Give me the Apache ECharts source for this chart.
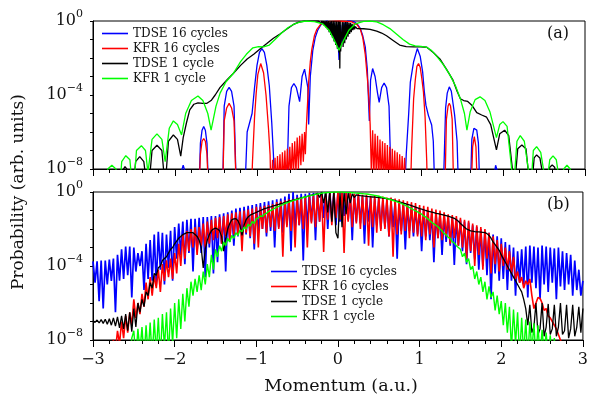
<!DOCTYPE html>
<html>
<head>
<meta charset="utf-8">
<script src="https://cdn.jsdelivr.net/npm/echarts@6/dist/echarts.min.js"></script>
<style>html,body{margin:0;padding:0;background:#fff}#c{width:591px;height:399px}</style>
</head>
<body>
<div id="c"></div>
<script>
// ===== DATA (log10 of probability) =====
const seriesNames = ['TDSE 16 cycles', 'KFR 16 cycles', 'TDSE 1 cycle', 'KFR 1 cycle'];
const seriesColors = ['#0000ff', '#ff0000', '#000000', '#00ff00'];
const yTicks = [0, -4, -8];

// ---- panel (a): x / log10(P) pairs ----
const aBlueX = [-3.0,-1.94,-1.92,-1.90,-1.88,-1.86,-1.71,-1.69,-1.67,-1.65,-1.63,-1.61,-1.59,-1.42,-1.40,-1.37,-1.34,-1.31,-1.28,-1.25,
 -1.15,-1.12,-1.09,-1.06,-1.03,-1.00,-0.97,-0.94,-0.91,-0.88,-0.85,-0.82,-0.80,-0.78,-0.64,-0.61,-0.58,-0.55,-0.52,-0.48,
 -0.45,-0.42,-0.40,-0.38,-0.37,-0.35,-0.32,-0.29,-0.26,-0.22,-0.18,-0.14,-0.12,-0.10,-0.08,-0.06,-0.04,-0.02,0.0,0.02,
 0.04,0.06,0.08,0.10,0.14,0.18,0.22,0.26,0.29,0.32,0.345,0.37,0.385,0.41,0.44,0.47,0.49,0.52,0.55,0.58,
 0.61,0.64,0.80,0.82,0.85,0.87,0.91,0.955,0.99,1.02,1.04,1.06,1.09,1.13,1.15,1.17,1.27,1.30,1.32,1.345,
 1.37,1.41,1.44,1.46,1.60,1.62,1.645,1.66,1.68,1.70,1.72,1.88,1.90,1.91,1.93,1.95,3.0];
const aBlueY = [-9.5,-9.5,-8.1,-7.8,-8.1,-9.5,-9.5,-6.6,-5.9,-5.7,-5.9,-6.6,-9.5,-9.5,-4.6,-3.8,-3.59,-3.8,-4.6,-9.5,
 -9.5,-6.0,-5.5,-5.0,-3.6,-2.4,-1.7,-1.49,-1.7,-2.4,-3.5,-5.5,-7.2,-9.5,-9.5,-4.6,-3.6,-3.38,-3.6,-4.36,
 -3.0,-2.6,-2.7,-3.6,-5.6,-3.0,-1.6,-0.9,-0.5,-0.2,-0.05,0,-0.5,-0.05,-0.8,-0.1,-1.3,-0.2,-2.1,-0.2,
 -1.2,-0.1,-0.6,0,0,-0.03,-0.15,-0.4,-0.8,-1.4,-2.6,-5.4,-3.2,-2.57,-3.0,-3.9,-4.4,-3.6,-3.35,-3.6,
 -4.6,-9.5,-9.5,-7.2,-5.0,-3.3,-2.2,-1.49,-1.9,-2.75,-3.8,-4.55,-5.1,-5.62,-6.5,-9.5,-9.5,-4.7,-3.9,-3.56,
 -3.8,-5.08,-6.5,-9.5,-9.5,-6.4,-5.8,-5.7,-5.9,-6.6,-9.5,-9.5,-8.1,-7.8,-8.1,-9.5,-9.5];

const aRedX = [-3.0,-1.71,-1.69,-1.67,-1.65,-1.63,-1.61,-1.59,-1.42,-1.40,-1.37,-1.34,-1.31,-1.28,-1.25,
 -1.07,-1.055,-1.03,-1.01,-0.99,-0.955,-0.92,-0.89,-0.86,-0.84,-0.83,
 -0.81,-0.795,-0.78,-0.765,-0.75,-0.735,-0.72,-0.705,-0.69,-0.675,-0.66,-0.645,-0.63,-0.615,-0.60,-0.585,-0.57,-0.555,-0.54,-0.525,
 -0.51,-0.495,-0.48,-0.465,-0.45,-0.435,-0.42,-0.41,-0.40,-0.39,-0.37,-0.35,-0.33,-0.30,-0.27,-0.22,-0.15,0,0.15,0.22,0.26,0.29,0.32,0.35,0.37,0.38,
 0.395,0.41,0.425,0.44,0.455,0.47,0.485,0.50,0.515,0.53,0.545,0.56,0.575,0.59,0.605,0.62,0.635,0.65,0.665,0.68,0.695,0.71,0.725,0.74,0.755,0.77,0.785,0.80,0.815,0.83,
 0.87,0.885,0.91,0.93,0.95,0.97,0.99,1.01,1.03,1.05,1.07,1.08,
 1.29,1.31,1.33,1.345,1.36,1.38,1.40,1.61,1.63,1.65,1.67,1.69,3.0];
const aRedY = [-9.5,-9.5,-7.2,-6.5,-6.35,-6.5,-7.2,-9.5,-9.5,-5.4,-4.7,-4.45,-4.7,-5.4,-9.5,
 -9.5,-7.6,-5.2,-3.9,-2.9,-2.3,-2.8,-4.0,-5.8,-7.24,-9.5,
 -7.5,-9,-7.4,-9,-7.3,-9,-7.2,-9,-7.1,-8.8,-7.0,-8.8,-6.9,-8.6,-6.8,-8.5,-6.6,-8.3,-6.5,-8.2,
 -6.3,-8.0,-6.2,-7.8,-6.1,-7.6,-6.0,-7.2,-5.9,-5.0,-3.3,-2.2,-1.49,-0.8,-0.45,-0.15,-0.03,0,-0.03,-0.2,-0.45,-0.9,-1.8,-3.3,-4.6,-5.6,
 -8.3,-5.9,-8.4,-6.1,-8.5,-6.2,-8.6,-6.4,-8.7,-6.5,-8.8,-6.6,-9,-6.7,-9,-6.8,-9,-6.9,-9,-7.0,-9,-7.1,-9,-7.2,-9,-7.3,-9,-7.4,-9,-9.5,
 -9.5,-7.0,-4.2,-3.2,-2.45,-2.3,-2.5,-3.1,-3.85,-5.2,-7.6,-9.5,
 -9.5,-5.3,-4.6,-4.45,-4.6,-5.3,-9.5,-9.5,-6.8,-6.25,-6.8,-9.5,-9.5];

const aBlackX = [-3.0,-2.68,-2.64,-2.61,-2.57,-2.52,-2.48,-2.43,-2.38,-2.33,-2.28,-2.22,-2.16,-2.12,-2.08,-2.02,-1.97,-1.93,-1.90,-1.86,
 -1.82,-1.77,-1.72,-1.66,-1.61,-1.56,-1.51,-1.45,-1.37,-1.29,-1.20,-1.12,-1.04,-0.96,-0.88,-0.80,-0.72,-0.64,-0.56,-0.50,
 -0.42,-0.35,-0.28,-0.26,-0.25,-0.24,-0.23,-0.22,-0.21,-0.20,-0.19,-0.18,-0.17,-0.16,-0.15,-0.14,-0.13,-0.12,-0.11,-0.10,
 -0.09,-0.08,-0.07,-0.06,-0.05,-0.04,-0.03,-0.02,-0.01,0.0,0.005,0.01,0.015,0.02,0.03,0.04,0.05,0.06,0.07,0.08,
 0.09,0.10,0.11,0.12,0.13,0.14,0.15,0.16,0.17,0.18,0.19,0.20,0.22,0.30,0.38,0.46,0.52,0.58,0.66,0.74,
 0.82,0.91,1.0,1.07,1.15,1.23,1.31,1.39,1.44,1.48,1.52,1.57,1.62,1.68,1.74,1.80,1.85,1.92,1.96,2.02,
 2.07,2.14,2.18,2.23,2.28,2.34,2.38,2.41,2.45,2.53,2.57,2.60,2.63,2.68,3.0];
const aBlackY = [-9.5,-9.5,-8.1,-7.87,-8.1,-9.5,-7.6,-7.33,-7.6,-9.5,-7.0,-6.72,-7.0,-9,-6.5,-6.16,-6.4,-7.3,-6.3,-5.5,
 -4.8,-4.5,-4.43,-4.45,-4.45,-4.3,-4.0,-3.59,-3.2,-2.84,-2.4,-2.05,-1.8,-1.5,-1.22,-0.93,-0.7,-0.45,-0.2,-0.07,
 0,0,0,-0.05,0,-0.1,0,-0.12,0,-0.15,0,-0.25,0,-0.35,0,-0.45,0,-0.6,0,-0.75,
 0,-0.9,0,-1.1,0,-1.3,-0.02,-1.5,-0.02,-1.7,-0.03,-2.57,-0.03,-1.65,-1.55,-0.05,-1.4,-0.05,-1.2,-0.05,
 -1.0,-0.05,-0.85,-0.08,-0.7,-0.1,-0.6,-0.15,-0.5,-0.2,-0.45,-0.3,-0.41,-0.42,-0.45,-0.55,-0.65,-0.8,-1.05,-1.3,
 -1.38,-1.40,-1.40,-1.42,-1.7,-2.05,-2.6,-3.2,-3.8,-4.2,-4.3,-4.35,-4.55,-4.95,-5.08,-5.2,-5.6,-6.97,-6.1,-5.9,
 -6.2,-9,-6.9,-6.7,-6.9,-9.5,-7.4,-7.24,-7.4,-9.5,-7.9,-7.78,-7.9,-9.5,-9.5];

const aGreenX = [-3.0,-2.86,-2.82,-2.77,-2.72,-2.68,-2.65,-2.60,-2.55,-2.51,-2.47,-2.41,-2.36,-2.33,-2.28,-2.22,-2.16,-2.12,-2.07,-2.02,
 -1.97,-1.92,-1.87,-1.80,-1.72,-1.66,-1.60,-1.56,-1.50,-1.45,-1.38,-1.29,-1.20,-1.13,-1.05,-0.98,-0.92,-0.85,-0.78,-0.70,
 -0.62,-0.54,-0.46,-0.40,-0.30,-0.20,-0.12,-0.05,0.0,0.05,0.12,0.20,0.30,0.38,0.46,0.54,0.62,0.70,0.78,0.86,
 0.93,1.0,1.07,1.13,1.20,1.27,1.35,1.42,1.48,1.53,1.56,1.60,1.66,1.72,1.78,1.84,1.92,1.96,2.00,2.05,
 2.13,2.17,2.21,2.26,2.34,2.37,2.41,2.46,2.53,2.57,2.61,2.65,2.70,2.74,2.78,2.82,2.86,3.0];
const aGreenY = [-9.5,-9.5,-8.0,-7.8,-8.0,-9.5,-7.6,-7.28,-7.5,-9.5,-7.0,-6.74,-7.0,-8.2,-6.4,-6.1,-6.4,-7.6,-5.8,-5.4,
 -5.6,-6.16,-5.0,-4.3,-4.05,-4.3,-5.0,-5.9,-4.6,-3.9,-3.3,-2.84,-2.2,-1.8,-1.45,-1.38,-1.40,-1.3,-1.0,-0.65,
 -0.35,-0.15,-0.04,0,-0.03,-0.15,-0.5,-1.1,-1.58,-1.1,-0.5,-0.15,-0.02,0,-0.05,-0.2,-0.41,-0.7,-1.0,-1.25,
 -1.34,-1.37,-1.42,-1.6,-1.95,-2.35,-2.9,-3.5,-4.2,-5.0,-5.9,-4.9,-4.25,-4.1,-4.3,-4.9,-6.3,-5.6,-5.44,-5.7,
 -9,-6.5,-6.2,-6.5,-9,-7.0,-6.79,-7.1,-9,-7.5,-7.29,-7.5,-9,-8.0,-7.8,-8.0,-9.5,-9.5];

// ---- panel (b): sampled every xStepB from xStartB, log10(P) ----
const xStartB = -3.0;
const xStepB = 0.025;
const bBlue = [
 -3.75,-4.9,-3.75,-5.9,-3.7,-6.3,-3.7,-5.0,-3.65,-4.8,
 -3.6,-6.5,-3.4,-4.8,-3.1,-4.7,-2.95,-4.5,-2.95,-5.7,
 -3.0,-4.3,-3.3,-4.0,-3.2,-5.3,-2.8,-4.7,-2.6,-4.8,
 -2.3,-5.0,-2.15,-4.2,-2.2,-5.0,-2.3,-4.1,-2.1,-4.8,
 -1.9,-3.6,-1.7,-3.4,-1.6,-3.9,-1.5,-3.3,-1.45,-4.3,
 -1.45,-3.2,-1.4,-3.3,-1.35,-4.6,-1.35,-3.0,-1.3,-4.4,
 -1.3,-3.8,-1.2,-2.8,-1.15,-4.3,-1.1,-2.7,-1.0,-2.9,
 -0.9,-2.4,-0.85,-2.6,-0.8,-2.3,-0.75,-2.5,-0.7,-3.1,
 -0.65,-2.2,-0.6,-2.0,-0.55,-2.4,-0.5,-2.1,-0.45,-3.0,
 -0.4,-1.9,-0.35,-2.2,-0.25,-1.8,-0.1,-3.2,0.0,-2.0,
 -0.15,-1.8,-0.1,-3.7,-0.1,-1.9,-0.05,-1.6,-0.05,-2.6,
 -0.05,-1.6,0.0,-1.4,0.0,-2.0,0.0,-1.5,0.0,-1.8,
 0.0,-1.6,0.0,-1.3,0.0,-1.5,-0.05,-2.6,-0.1,-1.6,
 -0.15,-1.7,-0.2,-2.8,-0.25,-1.6,-0.3,-3.0,-0.35,-1.8,
 -0.4,-2.0,-0.45,-1.9,-0.45,-2.4,-0.5,-1.9,-0.55,-3.6,
 -0.65,-2.1,-0.7,-3.1,-0.75,-2.1,-0.8,-2.4,-0.85,-2.3,
 -0.9,-3.2,-0.95,-2.4,-1.0,-2.6,-1.1,-3.8,-1.15,-2.5,
 -1.2,-3.4,-1.25,-2.7,-1.3,-2.9,-1.4,-3.95,-1.45,-2.9,
 -1.5,-3.2,-1.6,-3.9,-1.65,-3.3,-1.8,-3.6,-1.9,-4.2,
 -2.0,-4.0,-2.1,-4.5,-2.2,-5.8,-2.3,-4.4,-2.4,-4.8,
 -2.5,-4.7,-2.7,-5.3,-2.85,-4.8,-3.0,-5.6,-3.2,-4.9,
 -3.1,-5.0,-2.95,-5.7,-2.9,-4.9,-2.95,-5.2,-3.0,-5.8,
 -2.9,-5.0,-2.95,-5.4,-3.0,-4.9,-3.05,-5.8,-3.0,-5.1,
 -3.2,-5.3,-3.3,-5.0,-3.4,-5.6,-3.7,-5.3,-4.2,-5.6,
 -4.8];
const bRed = [
 -9,-9,-9,-9,-9,-9,-9,-9,-9,-8.5,
 -8.0,-8.6,-7.5,-8.2,-7.0,-7.9,-6.7,-7.6,-6.5,-7.2,
 -5.8,-6.8,-6.0,-6.6,-5.5,-6.2,-4.9,-5.8,-4.6,-5.6,
 -4.5,-5.2,-4.2,-5.4,-3.9,-4.8,-3.7,-4.6,-3.6,-4.7,
 -3.3,-4.4,-2.8,-4.0,-2.3,-3.6,-2.1,-3.2,-2.0,-3.0,
 -1.9,-3.4,-1.9,-2.9,-1.7,-3.0,-1.6,-2.8,-1.5,-2.6,
 -1.4,-2.5,-1.35,-2.8,-1.3,-2.4,-1.2,-2.6,-1.15,-2.3,
 -1.1,-2.3,-1.05,-3.2,-1.0,-2.2,-0.95,-2.4,-0.9,-2.8,
 -0.8,-3.0,-0.8,-2.0,-0.75,-2.2,-0.7,-1.9,-0.65,-2.1,
 -0.55,-2.0,-0.5,-3.5,-0.45,-1.9,-0.4,-2.1,-0.4,-3.0,
 -0.3,-1.8,-0.3,-2.0,-0.25,-3.0,-0.2,-1.7,-0.2,-1.9,
 -0.1,-1.6,-0.1,-3.24,-0.05,-1.5,0,-1.8,0,-1.4,
 0,-1.5,0,-3.3,-0.05,-1.6,-0.05,-1.9,-0.1,-1.7,
 -0.1,-2.0,-0.15,-1.8,-0.15,-2.9,-0.2,-1.9,-0.2,-2.2,
 -0.2,-2.1,-0.25,-2.0,-0.3,-2.4,-0.3,-3.5,-0.35,-2.3,
 -0.4,-2.3,-0.45,-2.1,-0.5,-2.5,-0.55,-2.2,-0.6,-2.4,
 -0.7,-2.4,-0.75,-2.6,-0.8,-2.3,-0.9,-3.0,-0.95,-2.5,
 -1.0,-2.6,-1.1,-2.4,-1.2,-2.8,-1.25,-2.5,-1.3,-2.9,
 -1.4,-3.0,-1.5,-3.6,-1.55,-3.2,-1.7,-4.0,-1.8,-3.4,
 -1.9,-4.2,-2.0,-3.6,-2.2,-4.4,-2.4,-3.9,-2.6,-4.3,
 -2.8,-4.0,-3.0,-4.2,-3.2,-4.4,-3.5,-4.7,-4.3,-4.9,
 -4.6,-5.2,-4.8,-5.0,-4.7,-5.6,-6.3,-6.0,-5.7,-5.75,
 -6.0,-6.4,-6.3,-6.7,-6.8,-7.0,-7.2,-7.4,-7.7,-8.0,
 -8.3,-9,-9,-9,-9,-9,-9,-9,-9,-9,
 -9];
const bBlack = [
 -6.95,-7.05,-6.92,-7.08,-6.9,-7.1,-6.88,-7.15,-6.85,-7.2,
 -6.8,-7.25,-6.75,-7.35,-6.7,-7.4,-6.6,-7.5,-6.5,-7.55,
 -6.3,-7.3,-6.0,-6.5,-5.8,-6.2,-5.4,-5.6,-4.9,-5.2,
 -4.4,-4.5,-4.1,-4.0,-3.7,-3.6,-3.5,-3.3,-3.1,-3.0,
 -2.8,-2.65,-2.5,-2.4,-2.3,-2.25,-2.2,-2.2,-2.2,-2.2,
 -2.3,-2.4,-2.6,-3.0,-4.1,-3.1,-2.6,-2.3,-2.1,-2.0,
 -1.95,-2.0,-2.1,-2.4,-3.2,-2.5,-2.0,-1.7,-1.5,-1.45,
 -1.44,-1.55,-1.8,-2.34,-1.8,-1.5,-1.35,-1.25,-1.2,-1.15,
 -1.1,-1.05,-1.0,-0.95,-0.9,-0.87,-0.83,-0.8,-0.76,-0.73,
 -0.7,-0.67,-0.63,-0.6,-0.56,-0.53,-0.5,-0.47,-0.44,-0.41,
 -0.38,-0.35,-0.32,-0.29,-0.26,-0.23,-0.2,-0.17,-0.14,-0.11,
 -0.08,-0.3,0,-0.6,0,-1.1,0,-1.6,0,-2.2,
 -2.5,0,-1.9,0,-1.2,-0.05,-0.6,-0.1,-0.3,-0.15,
 -0.18,-0.2,-0.21,-0.22,-0.24,-0.25,-0.26,-0.27,-0.28,-0.29,
 -0.3,-0.31,-0.33,-0.34,-0.36,-0.38,-0.4,-0.43,-0.46,-0.5,
 -0.53,-0.56,-0.6,-0.63,-0.67,-0.7,-0.74,-0.78,-0.82,-0.86,
 -0.9,-0.93,-0.96,-1.0,-1.03,-1.06,-1.09,-1.12,-1.15,-1.17,
 -1.19,-1.22,-1.25,-1.28,-1.31,-1.34,-1.38,-1.42,-1.5,-1.58,
 -1.7,-1.8,-1.9,-2.0,-2.05,-2.1,-2.12,-2.14,-2.15,-2.16,
 -2.17,-2.18,-2.2,-2.25,-2.35,-2.5,-2.7,-2.85,-3.0,-3.15,
 -3.4,-3.6,-3.8,-4.0,-4.2,-4.4,-4.6,-4.8,-5.0,-5.2,
 -5.4,-5.8,-6.3,-7.2,-6.1,-7.6,-7.3,-6.0,-7.7,-7.4,
 -6.0,-7.8,-7.3,-6.05,-7.7,-7.4,-6.1,-7.8,-7.3,-6.0,
 -7.7,-7.5,-6.1,-7.9,-7.4,-6.1,-7.8,-7.3,-6.2,-7.6,
 -6.3];
const bGreen = [
 -9,-9,-9,-9,-9,-9,-9,-9,-9,-9,
 -9,-9,-9,-9,-9,-8.6,-9,-8.2,-9,-7.9,
 -7.5,-9,-7.4,-8.6,-7.3,-9,-7.2,-8.8,-7.05,-9,
 -6.9,-8.7,-6.8,-9,-6.6,-8.4,-6.5,-8.9,-6.3,-8.2,
 -6.0,-7.9,-5.8,-7.4,-5.5,-7.0,-5.2,-6.2,-4.85,-5.6,
 -4.7,-5.4,-4.5,-5.3,-4.3,-5.0,-3.9,-4.6,-3.4,-4.2,
 -3.1,-3.5,-2.9,-3.2,-2.7,-2.9,-2.5,-2.7,-2.35,-2.5,
 -2.2,-2.35,-2.05,-2.15,-1.9,-2.0,-1.75,-1.85,-1.6,-1.7,
 -1.45,-1.4,-1.3,-1.32,-1.2,-1.15,-1.05,-1.0,-0.95,-0.88,
 -0.82,-0.78,-0.72,-0.68,-0.62,-0.58,-0.55,-0.5,-0.47,-0.43,
 -0.4,-0.37,-0.33,-0.3,-0.27,-0.24,-0.21,-0.18,-0.16,-0.13,
 -0.11,-0.09,-0.07,-0.05,-0.04,-0.03,-0.02,-0.01,0,0,
 0,0,0,-0.01,-0.02,-0.02,-0.03,-0.04,-0.05,-0.06,
 -0.07,-0.08,-0.09,-0.1,-0.11,-0.12,-0.14,-0.16,-0.18,-0.2,
 -0.23,-0.26,-0.29,-0.32,-0.36,-0.39,-0.42,-0.46,-0.49,-0.53,
 -0.57,-0.62,-0.67,-0.72,-0.78,-0.84,-0.9,-0.96,-1.02,-1.08,
 -1.14,-1.2,-1.3,-1.35,-1.45,-1.55,-1.65,-1.72,-1.8,-1.88,
 -2.0,-2.1,-2.25,-2.3,-2.45,-2.5,-2.7,-2.75,-2.9,-3.0,
 -3.1,-3.5,-3.3,-3.8,-3.6,-4.2,-4.0,-4.7,-4.3,-5.0,
 -4.6,-5.4,-4.85,-5.8,-5.1,-5.7,-5.4,-6.4,-5.6,-6.6,
 -5.9,-7.2,-6.0,-7.6,-6.2,-8.5,-6.35,-8.2,-6.5,-9,
 -6.8,-8.8,-6.9,-9,-7.0,-8.6,-7.1,-9,-7.2,-8.9,
 -7.45,-8.7,-7.6,-9,-7.75,-9,-7.9,-9,-9,-9,
 -9,-9,-9,-9,-9,-9,-9,-9,-9,-9,
 -9];

// ===== CHART =====
const FONT = 'DejaVu Serif';
const pairs = (xs, ys) => xs.map((x, i) => [x, ys[i]]);
const sampled = (ys) => ys.map((y, i) => [+(xStartB + i * xStepB).toFixed(4), y]);

const panelA = [pairs(aBlueX, aBlueY), pairs(aRedX, aRedY), pairs(aBlackX, aBlackY), pairs(aGreenX, aGreenY)];
const panelB = [sampled(bBlue), sampled(bRed), sampled(bBlack), sampled(bGreen)];
const widthsA = [1.3, 1.3, 1.3, 1.3];
const widthsB = [1.7, 1.6, 1.3, 1.4];

function yAxisCfg(idx) {
  return {
    type: 'value', gridIndex: idx, min: -8, max: 0, interval: 1,
    axisLine: { show: true, onZero: false, lineStyle: { color: '#000', width: 1 } },
    axisTick: { show: true, inside: false, length: 3, lineStyle: { color: '#000' } },
    splitLine: { show: false },
    axisLabel: {
      margin: 10,
      formatter: v => yTicks.includes(v) ? '{a|10}{b|' + (v < 0 ? '\u2212' + Math.abs(v) : v) + '}' : '',
      rich: {
        a: { fontFamily: FONT, fontSize: 16, color: '#111', lineHeight: 24 },
        b: { fontFamily: FONT, fontSize: 11, color: '#111', verticalAlign: 'top', lineHeight: 13 }
      }
    }
  };
}
function xAxisCfg(idx, showLabels) {
  return {
    type: 'value', gridIndex: idx, min: -3, max: 3, interval: 1,
    axisLine: { show: true, onZero: false, lineStyle: { color: '#000', width: 1 } },
    axisTick: { show: true, inside: false, length: 7, lineStyle: { color: '#000' } },
    minorTick: { show: true, splitNumber: 5, length: 4, lineStyle: { color: '#000' } },
    splitLine: { show: false },
    axisLabel: {
      show: showLabels, margin: 12, fontFamily: FONT, fontSize: 16, color: '#111',
      formatter: v => v < 0 ? '\u2212' + Math.abs(v) : String(v)
    }
  };
}

const series = [];
[panelA, panelB].forEach((panel, p) => {
  panel.forEach((data, s) => {
    series.push({
      name: seriesNames[s], type: 'line', xAxisIndex: p, yAxisIndex: p,
      data: data, symbol: 'none', showSymbol: false, clip: true, animation: false,
      lineStyle: { color: seriesColors[s], width: (p === 0 ? widthsA : widthsB)[s] },
      itemStyle: { color: seriesColors[s] },
      z: 2 + s
    });
  });
});

function legendCfg(left, top) {
  return {
    data: seriesNames.map(n => ({ name: n, icon: 'rect' })),
    orient: 'vertical', left: left, top: top,
    itemWidth: 26, itemHeight: 1.6, itemGap: 0, selectedMode: false,
    textStyle: { fontFamily: FONT, fontSize: 12, color: '#111', lineHeight: 15 }
  };
}

const chart = echarts.init(document.getElementById('c'), null, { renderer: 'canvas' });
chart.setOption({
  animation: false,
  backgroundColor: '#fff',
  grid: [
    { left: 93, right: 6, top: 21, height: 148, show: true, borderColor: '#000', borderWidth: 1 },
    { left: 93, right: 6, top: 192, height: 148, show: true, borderColor: '#000', borderWidth: 1 }
  ],
  xAxis: [xAxisCfg(0, false), xAxisCfg(1, true)],
  yAxis: [yAxisCfg(0), yAxisCfg(1)],
  legend: [legendCfg(97, 21), legendCfg(266, 259)],
  series: series,
  graphic: [
    { type: 'text', left: 547, top: 26, style: { text: '(a)', fontFamily: FONT, fontSize: 16, fill: '#111' } },
    { type: 'text', left: 547, top: 197, style: { text: '(b)', fontFamily: FONT, fontSize: 16, fill: '#111' } },
    { type: 'text', x: 341, y: 386, style: { text: 'Momentum (a.u.)', fontFamily: FONT, fontSize: 17.5, fill: '#111', align: 'center', verticalAlign: 'middle' } },
    { type: 'text', x: 19, y: 192, rotation: Math.PI / 2, style: { text: 'Probability (arb. units)', fontFamily: FONT, fontSize: 17, fill: '#111', align: 'center', verticalAlign: 'middle' } }
  ]
});
</script>
</body>
</html>
